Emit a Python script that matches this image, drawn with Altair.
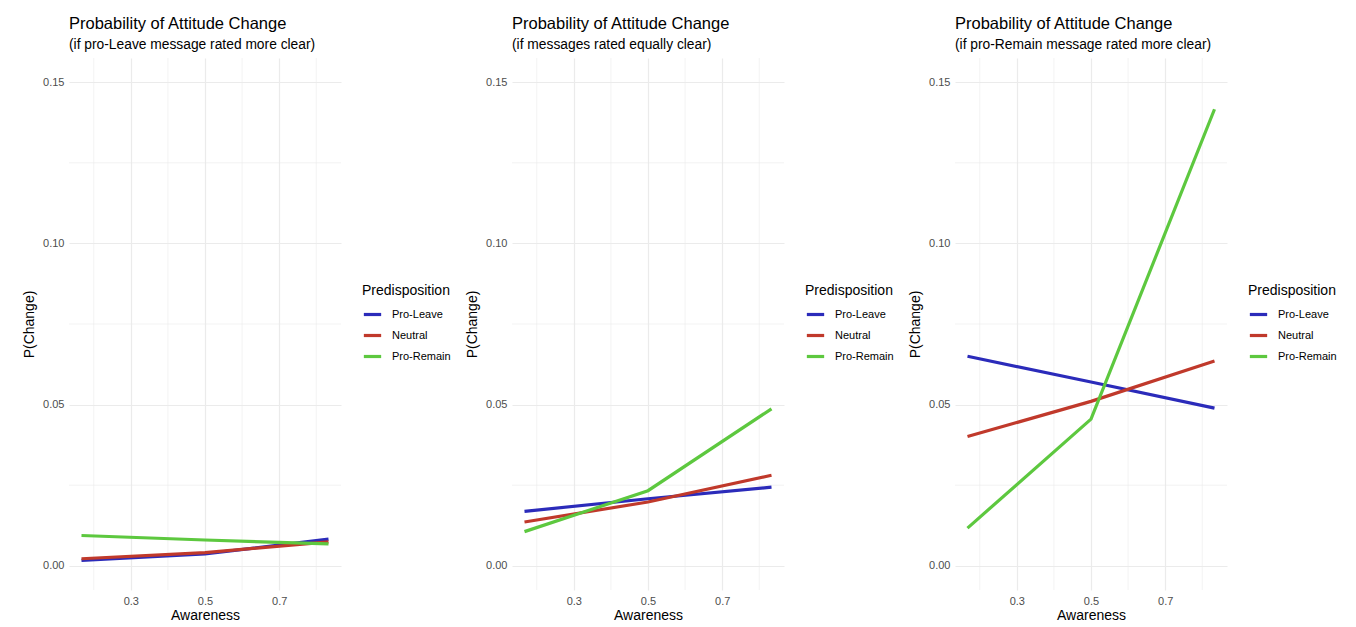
import altair as alt
import pandas as pd

# ---------------- data ----------------
awareness = [0.167, 0.5, 0.833]
groups = ["Pro-Leave", "Neutral", "Pro-Remain"]
colors = ["#2B2BBA", "#C0392B", "#5DC83F"]

main_title = "Probability of Attitude Change"
subtitles = [
    "(if pro-Leave message rated more clear)",
    "(if messages rated equally clear)",
    "(if pro-Remain message rated more clear)",
]

p1_leave = [0.0017, 0.0037, 0.0083]
p1_neutral = [0.0022, 0.0041, 0.0074]
p1_remain = [0.0094, 0.0080, 0.0068]

p2_leave = [0.0169, 0.0208, 0.0244]
p2_neutral = [0.0136, 0.0198, 0.0281]
p2_remain = [0.0106, 0.0233, 0.0487]

p3_leave = [0.0650, 0.0570, 0.0489]
p3_neutral = [0.0401, 0.0510, 0.0635]
p3_remain = [0.0117, 0.0455, 0.1416]

x_major = [0.3, 0.5, 0.7]
x_minor = [0.2, 0.4, 0.6, 0.8]
y_major = [0.0, 0.05, 0.10, 0.15]
y_minor = [0.025, 0.075, 0.125]

FONT = "Liberation Sans"
GRID = "#EBEBEB"

x_scale = alt.Scale(domain=[0.1333, 0.8667], nice=False, zero=False)
y_scale = alt.Scale(domain=[-0.0075, 0.1575], nice=False, zero=False)

x_axis = alt.Axis(values=x_major, format=".1f", grid=True, gridColor=GRID, gridWidth=1.2,
                  domain=False, ticks=False, labelColor="#4D4D4D", labelFontSize=11,
                  labelPadding=5, labelFont=FONT, title="Awareness", titleFont=FONT,
                  titleFontSize=14, titleFontWeight="normal", titleColor="#000000",
                  titlePadding=2)
y_axis = alt.Axis(values=y_major, format=".2f", grid=True, gridColor=GRID, gridWidth=1.2,
                  domain=False, ticks=False, labelColor="#4D4D4D", labelFontSize=11,
                  labelPadding=5, labelFont=FONT, title="P(Change)", titleFont=FONT,
                  titleFontSize=14, titleFontWeight="normal", titleColor="#000000",
                  titlePadding=6)


def panel(subtitle, leave, neutral, remain):
    rows = []
    for g, vals in zip(groups, [leave, neutral, remain]):
        for a, v in zip(awareness, vals):
            rows.append({"Awareness": a, "P": v, "Predisposition": g})
    df = pd.DataFrame(rows)

    xminor = alt.Chart(pd.DataFrame({"Awareness": x_minor})).mark_rule(
        color=GRID, strokeWidth=0.6
    ).encode(x=alt.X("Awareness:Q", scale=x_scale, axis=x_axis))
    yminor = alt.Chart(pd.DataFrame({"P": y_minor})).mark_rule(
        color=GRID, strokeWidth=0.6
    ).encode(y=alt.Y("P:Q", scale=y_scale, axis=y_axis))

    lines = alt.Chart(df).mark_line(strokeWidth=3.2).encode(
        x=alt.X("Awareness:Q", scale=x_scale, axis=x_axis),
        y=alt.Y("P:Q", scale=y_scale, axis=y_axis),
        color=alt.Color(
            "Predisposition:N",
            scale=alt.Scale(domain=groups, range=colors),
            sort=groups,
            legend=alt.Legend(
                orient="none", legendX=293, legendY=226,
                symbolType="stroke", symbolStrokeWidth=3.2, symbolSize=300,
                titleFont=FONT, titleFontSize=14, titleFontWeight="normal",
                titleColor="#000000", titlePadding=6,
                labelFont=FONT, labelFontSize=11, labelColor="#000000",
                labelOffset=9, rowPadding=4,
            ),
        ),
        order=alt.Order("Awareness:Q"),
    )

    return alt.layer(xminor, yminor, lines).properties(
        width=272, height=532,
        title=alt.TitleParams(
            text=main_title, subtitle=subtitle, anchor="start", frame="group",
            font=FONT, fontSize=16.5, fontWeight="normal", color="#000000",
            subtitleFont=FONT, subtitleFontSize=13.8, subtitleColor="#000000",
            subtitlePadding=5, offset=6,
        ),
    )


chart = alt.hconcat(
    panel(subtitles[0], p1_leave, p1_neutral, p1_remain),
    panel(subtitles[1], p2_leave, p2_neutral, p2_remain),
    panel(subtitles[2], p3_leave, p3_neutral, p3_remain),
    spacing=14,
).resolve_legend(color="independent").configure_view(stroke=None).properties(
    padding={"left": 22, "top": 16, "right": 5, "bottom": 5}
)

chart.save("out.html", embed_options={"renderer": "svg", "actions": False})
